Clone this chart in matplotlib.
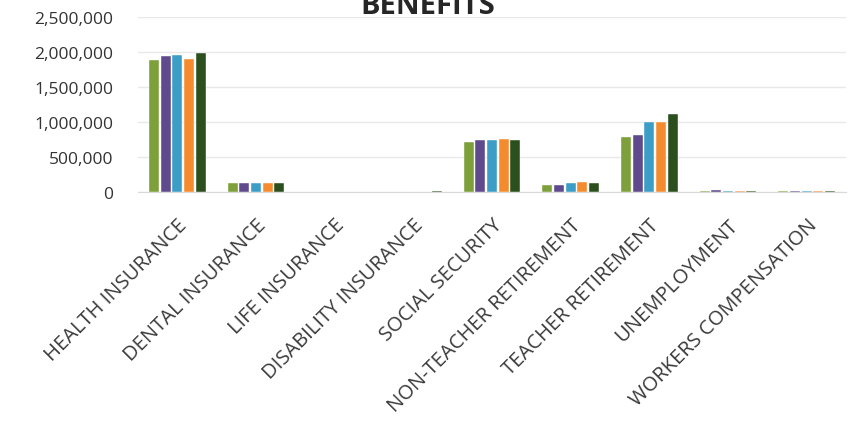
import numpy as np
import matplotlib.pyplot as plt
from matplotlib.ticker import FuncFormatter

# Benefit categories and yearly amounts (five years per category)
categories = [
    "HEALTH INSURANCE", "DENTAL INSURANCE", "LIFE INSURANCE",
    "DISABILITY INSURANCE", "SOCIAL SECURITY", "NON-TEACHER RETIREMENT",
    "TEACHER RETIREMENT", "UNEMPLOYMENT", "WORKERS COMPENSATION",
]
year1 = [1890000, 140000, 3000, 9000, 714000, 104000, 794000, 23000, 20000]
year2 = [1951000, 135000, 3000, 9000, 743000, 104000, 823000, 26000, 21000]
year3 = [1961000, 132000, 3000, 10000, 743000, 133000, 1000000, 20000, 19000]
year4 = [1904000, 135000, 3000, 9000, 761000, 143000, 1009000, 20000, 21000]
year5 = [1990000, 130000, 3000, 12000, 751000, 129000, 1119000, 14000, 16000]
series = [year1, year2, year3, year4, year5]
colors = ["#7da03a", "#5e4a8c", "#3c9dc6", "#f58b2f", "#2c4f1e"]

plt.rcParams["font.family"] = ["Open Sans", "DejaVu Sans"]

fig = plt.figure(figsize=(8.5, 4.27), dpi=100)
ax = fig.add_axes([138 / 850, 1 - 193.3 / 427, (846 - 138) / 850, (193.3 - 18.3) / 427])

x = np.arange(len(categories))
slot = 0.148
for i, (vals, c) in enumerate(zip(series, colors)):
    ax.bar(x + (i - 2) * slot, vals, width=slot * 0.84, color=c,
           edgecolor="white", linewidth=0.3, zorder=3)

ax.set_xlim(-0.5, len(categories) - 0.5)
ax.set_ylim(0, 2500000)
ax.set_yticks(np.arange(0, 2500001, 500000))
ax.yaxis.set_major_formatter(FuncFormatter(lambda v, p: f"{int(v):,}"))
ax.grid(axis="y", color="#e8e8e8", linewidth=1.0, zorder=0)
for s in ["top", "right", "left"]:
    ax.spines[s].set_visible(False)
ax.spines["bottom"].set_color("#d9d9d9")
ax.tick_params(axis="y", length=0, labelsize=12.5, colors="#333333", pad=18)
ax.tick_params(axis="x", length=0, pad=16)

ax.set_xticks(x)
ax.set_xticklabels(categories, rotation=45, ha="right", rotation_mode="anchor",
                   fontsize=14.5, color="#3a3a3a")

fig.text(428 / 850, 1 - 14 / 427, "BENEFITS", ha="center", va="baseline",
         fontsize=21, fontweight="bold", color="#262626")

fig.savefig("out.png", dpi=100)
